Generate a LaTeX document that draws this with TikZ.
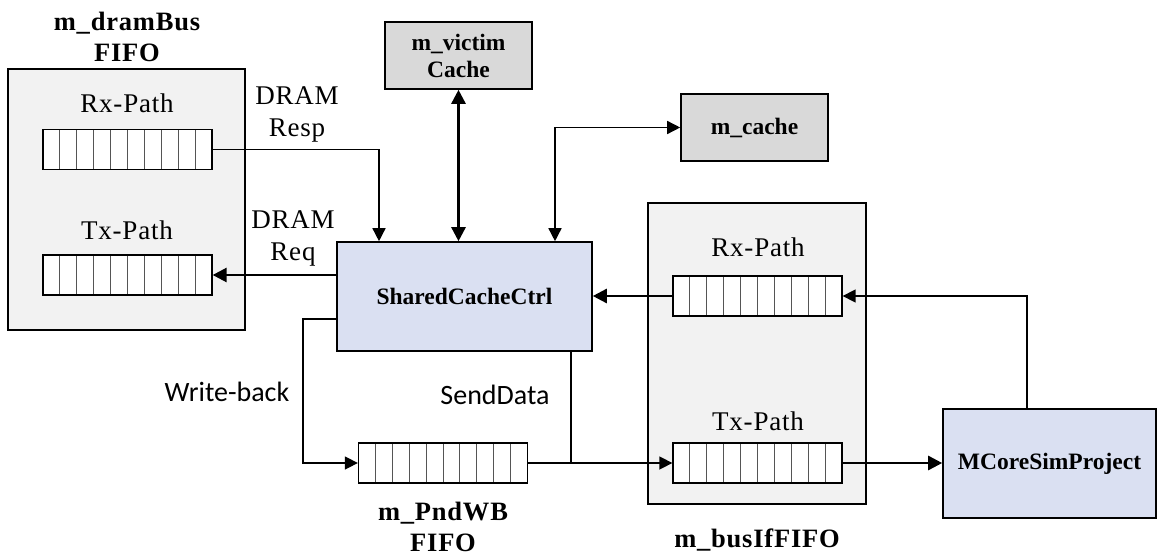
\documentclass[tikz,border=0pt]{standalone}
\usepackage{fontspec}
\setmainfont{Liberation Serif}
\newfontfamily\spacedserif[LetterSpace=3]{Liberation Serif}
\newfontfamily\labelsans{Carlito}
\usetikzlibrary{arrows.meta,calc}

\definecolor{unitgray}{HTML}{D9D9D9}
\definecolor{groupgray}{HTML}{F2F2F2}
\definecolor{ctrlblue}{HTML}{DAE0F2}
\definecolor{cellline}{HTML}{555555}

\tikzset{
  wire/.style={draw=black, line width=1.5pt},
  thinarrow/.style={wire, -{Triangle[length=13pt,width=13pt]}},
  thinboth/.style={wire, {Triangle[length=13pt,width=13pt]}-{Triangle[length=13pt,width=13pt]}},
  bigarrow/.style={draw=black, line width=2.6pt, -{Triangle[length=14pt,width=14pt]}},
  bigboth/.style={draw=black, line width=2.6pt, {Triangle[length=14pt,width=14pt]}-{Triangle[length=14pt,width=14pt]}},
  group/.style={draw=black, line width=1.6pt, fill=groupgray, inner sep=0pt},
  unitbox/.style={draw=black, line width=1.6pt, fill=unitgray, inner sep=0pt,
    minimum width=147pt, minimum height=67pt, align=center,
    font=\fontsize{23.5}{27}\selectfont\bfseries},
  ctrlbox/.style={draw=black, line width=1.6pt, fill=ctrlblue, inner sep=0pt,
    minimum height=109pt, font=\fontsize{23.5}{27}\selectfont\bfseries},
  fifo/.style={draw=black, line width=1.3pt, fill=white, inner sep=0pt,
    minimum width=169pt, minimum height=40pt,
    path picture={
      \foreach \i in {1,...,9}
        \draw[cellline, line width=1pt]
          ($(path picture bounding box.south west)!\i/10!(path picture bounding box.south east)$) --
          ($(path picture bounding box.north west)!\i/10!(path picture bounding box.north east)$);
    }},
  serifl/.style={font=\fontsize{27}{32}\selectfont\spacedserif, align=center, inner sep=0pt},
  titlel/.style={font=\fontsize{26.5}{31}\selectfont\spacedserif\bfseries, align=center, inner sep=0pt},
  sansl/.style={font=\fontsize{28}{32}\selectfont\labelsans, inner sep=0pt},
}

\begin{document}
\begin{tikzpicture}[x=1pt, y=-1pt]
\useasboundingbox (0,0) rectangle (1158,556);

% container boxes
\node[group, minimum width=237pt, minimum height=261pt] (dram) at (126.5,199.5) {};
\node[group, minimum width=218pt, minimum height=301pt] (busif) at (757,353.5) {};

% queues
\node[fifo] (drx) at (127.5,149.5) {};
\node[fifo] (dtx) at (127.5,275) {};
\node[fifo] (brx) at (757.5,296) {};
\node[fifo] (btx) at (757.5,463) {};
\node[fifo] (pnd) at (443,463) {};

% functional blocks
\node[unitbox] (victim) at (458.5,55.5) {m\_victim\\Cache};
\node[unitbox] (mcache) at (754.5,127.5) {m\_cache};
\node[ctrlbox, minimum width=255pt] (scc) at (464.5,296.5) {SharedCacheCtrl};
\node[ctrlbox, minimum width=213pt] (mcore) at (1049.5,463.5) {MCoreSimProject};

% labels
\node[titlel] (tdram) at (127,37) {m\_dramBus\\FIFO};
\node[serifl] (ldrx) at (127,103) {Rx-Path};
\node[serifl] (ldtx) at (127,230) {Tx-Path};
\node[serifl] (lbrx) at (758,247) {Rx-Path};
\node[serifl] (lbtx) at (758,421) {Tx-Path};
\node[serifl] (lresp) at (297,114) {DRAM\\Resp};
\node[serifl] (lreq) at (293,238) {DRAM\\Req};
\node[sansl] (lwb) at (227,392) {Write-back};
\node[sansl] (lsend) at (495,395) {SendData};
\node[titlel] (tpnd) at (443,527) {m\_PndWB\\FIFO};
\node[titlel] (tbus) at (757,540) {m\_busIfFIFO};

% routing points
\coordinate (respx) at (379,150);
\coordinate (cachex) at (555,127);
\coordinate (wbturn) at (303,319);
\coordinate (join) at (571,463);
\coordinate (corex) at (1027,296);

% connectors
\draw[thinarrow] (drx.east) -| (scc.north -| respx);
\draw[bigarrow] (scc.west |- dtx.east) -- (dtx.east);
\draw[bigboth] (victim.south) -- (scc.north -| victim.south);
\draw[thinboth] (scc.north -| cachex) |- (mcache.west);
\draw[bigarrow] (brx.west) -- (scc.east |- brx.west);
\draw[thinarrow] (mcore.north -| corex) |- (brx.east);
\draw[bigarrow] (btx.east) -- (mcore.west |- btx.east);
\draw[thinarrow] (pnd.east) -- (btx.west);
\draw[wire] (scc.south -| join) -- (join);
\draw[thinarrow] (scc.west |- wbturn) -- (wbturn) |- (pnd.west);
\end{tikzpicture}
\end{document}
